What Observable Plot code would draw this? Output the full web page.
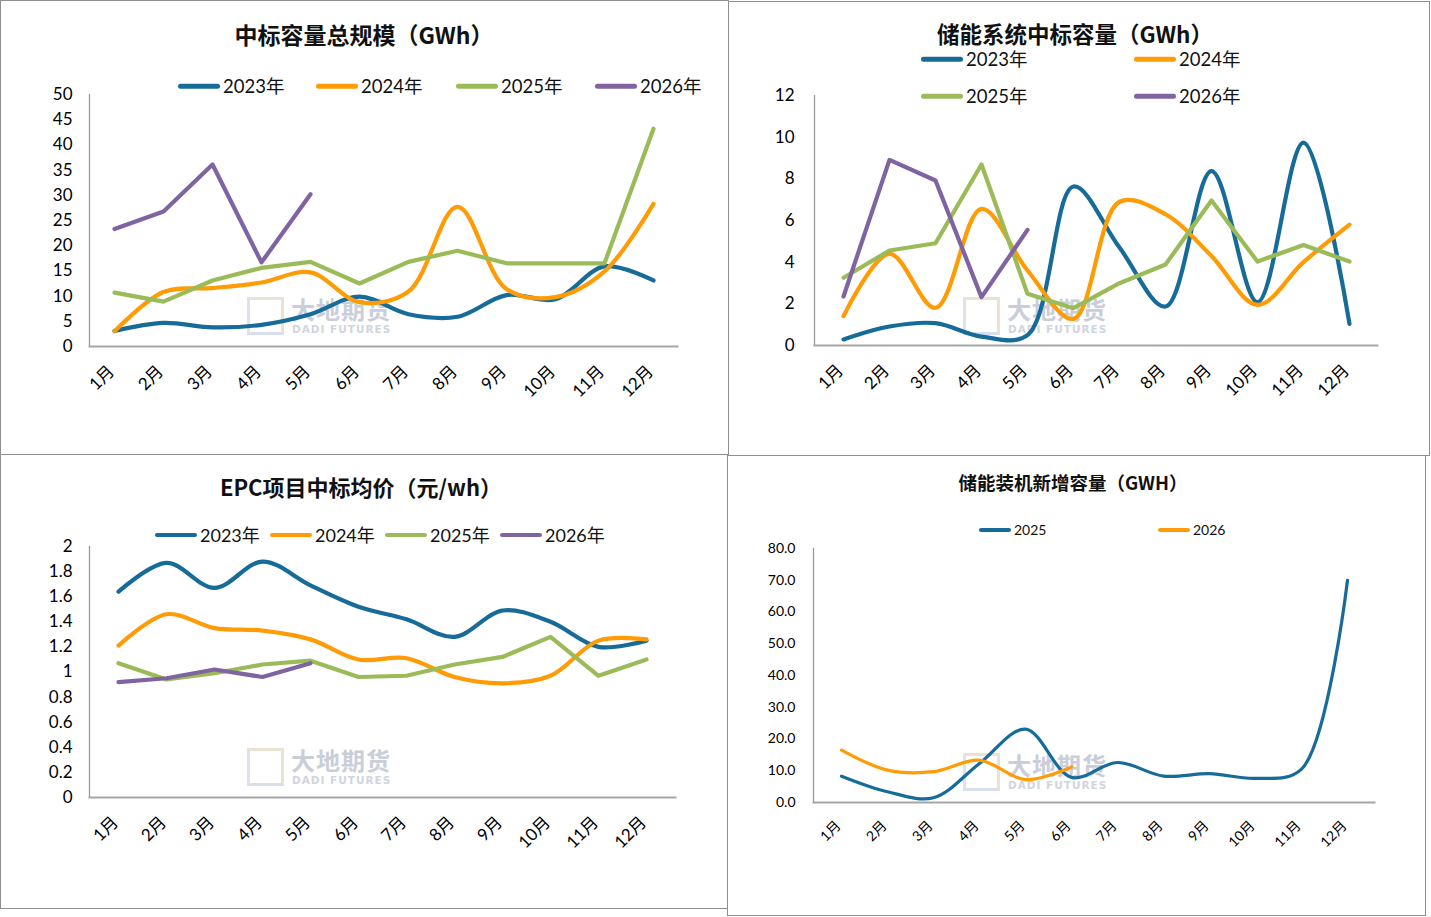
<!DOCTYPE html>
<html><head><meta charset="utf-8">
<script src="https://cdn.jsdelivr.net/npm/d3@7"></script>
<script src="https://cdn.jsdelivr.net/npm/@observablehq/plot@0.6"></script>
<style>
html,body{margin:0;padding:0;background:#fff;}
#root{position:relative;width:1431px;height:917px;overflow:hidden;background:#fff;font-family:Lato,"Noto Sans CJK SC",sans-serif;}
.panel{position:absolute;border:1.5px solid #8e8e8e;box-sizing:border-box;}
.title{position:absolute;font-weight:bold;white-space:nowrap;transform:translate(-50%,-50%);font-family:"Noto Sans CJK SC",sans-serif;color:#111;line-height:1;}
.leg{position:absolute;display:flex;align-items:center;white-space:nowrap;transform:translateY(-50%);color:#111;line-height:1;}
.leg span.sw{display:inline-block;border-radius:3px;margin-right:3px;}
.wm{position:absolute;opacity:0.8;}
.wm .logo{position:absolute;left:0;top:0;border:3px solid #e6dcc8;border-left-color:#d5dcea;border-bottom-color:#cfd8e8;box-sizing:border-box;}
.wm .txt{position:absolute;font-family:"Noto Sans CJK SC",sans-serif;font-weight:bold;color:#bcc2cf;white-space:nowrap;letter-spacing:1px;line-height:1.1;}
.wm .txt span{font-family:"DejaVu Sans",sans-serif;color:#c6cbd6;display:block;line-height:1;}
.plot{position:absolute;}
</style>
</head><body><div id="root"></div>
<script>
// ---------- data ----------
const months = ["1月","2月","3月","4月","5月","6月","7月","8月","9月","10月","11月","12月"];

// 中标容量总规模（GWh）
const bidTotal2023 = [3.1, 4.7, 3.8, 4.3, 6.4, 9.9, 6.4, 5.9, 10.2, 9.4, 15.9, 13.1];
const bidTotal2024 = [3.0, 10.8, 11.6, 12.7, 14.7, 8.8, 10.9, 27.7, 11.4, 9.8, 14.9, 28.3];
const bidTotal2025 = [10.7, 8.9, 13.1, 15.6, 16.8, 12.5, 16.8, 19.0, 16.5, 16.5, 16.5, 43.2];
const bidTotal2026 = [23.3, 26.8, 36.1, 16.7, 30.2];

// 储能系统中标容量（GWh）
const sysBid2023 = [0.29, 0.91, 1.07, 0.43, 0.5, 7.63, 4.7, 1.87, 8.37, 2.08, 9.74, 1.04];
const sysBid2024 = [1.41, 4.4, 1.81, 6.56, 3.6, 1.28, 6.9, 6.3, 4.3, 1.95, 4.0, 5.8];
const sysBid2025 = [3.25, 4.56, 4.91, 8.69, 2.48, 1.79, 2.99, 3.89, 6.96, 4.03, 4.82, 4.03];
const sysBid2026 = [2.35, 8.91, 7.92, 2.32, 5.55];

// EPC项目中标均价（元/wh）
const epc2023 = [1.64, 1.87, 1.67, 1.88, 1.69, 1.52, 1.42, 1.28, 1.49, 1.40, 1.20, 1.25];
const epc2024 = [1.21, 1.46, 1.35, 1.33, 1.26, 1.10, 1.11, 0.96, 0.91, 0.97, 1.25, 1.26];
const epc2025 = [1.07, 0.94, 0.99, 1.06, 1.09, 0.96, 0.97, 1.06, 1.12, 1.28, 0.97, 1.10];
const epc2026 = [0.92, 0.95, 1.02, 0.96, 1.07];

// 储能装机新增容量（GWH）
const install2025 = [8.3, 3.4, 1.5, 12.3, 23.1, 7.9, 12.6, 8.3, 9.1, 7.6, 10.5, 70.0];
const install2026 = [16.5, 10.2, 9.7, 13.3, 7.2, 11.2];

const yearNames = ["2023年","2024年","2025年","2026年"];
const colors = {blue:"#176b99", orange:"#ff9b05", green:"#9bbb59", purple:"#8064a2"};

// ---------- helpers ----------
const root = document.getElementById("root");
function el(tag, cls, style, html){
  const e = document.createElement(tag);
  if (cls) e.className = cls;
  Object.assign(e.style, style || {});
  if (html != null) e.innerHTML = html;
  root.appendChild(e);
  return e;
}
function rows(vals){ return vals.map((v,i)=>({m:months[i], v})); }
function legendItem(x, y, label, color, lineW, lineH, fs){
  const d = el("div","leg",{left:x+"px",top:y+"px",fontSize:fs+"px"});
  d.innerHTML = `<span class="sw" style="width:${lineW}px;height:${lineH}px;background:${color}"></span>${label}`;
}
function watermark(x, y){
  const w = el("div","wm",{left:x+"px",top:y+"px",width:"150px",height:"40px"});
  w.innerHTML = `<div class="logo" style="width:37px;height:38px"></div>
  <div class="txt" style="left:44px;top:-1px;font-size:24px">大地期货<span style="font-size:10.5px;margin-left:1px;margin-top:2px">DADI FUTURES</span></div>`;
}
function placePlot(x, y, svg){
  const w = el("div","plot",{left:x+"px",top:y+"px"});
  w.appendChild(svg);
}
const fontFam = 'Lato, "Noto Sans CJK SC", sans-serif';

function chart(opts){
  const {w,h,ml,mr,mt,mb,ydom,yticks,yfmt,fs,series,axisPadY,axisPadX} = opts;
  const marks = [
    Plot.frame({anchor:"left", stroke:"#9a9a9a", strokeWidth:1.3}),
    Plot.frame({anchor:"bottom", stroke:"#a6a6a6", strokeWidth:2}),
    Plot.axisY({ticks:yticks, tickSize:0, tickPadding:axisPadY, tickFormat:yfmt, label:null, fontSize:fs, fill:"#000"}),
    Plot.axisX({tickSize:0, tickRotate:-45, tickPadding:axisPadX, dx:-3, label:null, fontSize:fs, fill:"#000"})
  ];
  for (const s of series){
    marks.push(Plot.line(rows(s.values), {x:"m", y:"v", stroke:s.color, strokeWidth:s.sw, curve:s.curve, strokeLinecap:"round", strokeLinejoin:"round"}));
  }
  return Plot.plot({
    width:w, height:h, marginLeft:ml, marginRight:mr, marginTop:mt, marginBottom:mb,
    style:{fontFamily:fontFam, fontSize:fs+"px", background:"transparent", color:"#000", overflow:"visible"},
    x:{type:"point", domain:months, padding:0.5, label:null},
    y:{domain:ydom, label:null},
    marks
  });
}

// ---------- panels (borders) ----------
el("div","panel",{left:"0px",top:"0px",width:"729px",height:"455px"});
el("div","panel",{left:"728px",top:"1px",width:"702px",height:"455px"});
el("div","panel",{left:"0px",top:"454px",width:"728px",height:"455px"});
el("div","panel",{left:"727px",top:"455px",width:"699px",height:"461px"});

// watermarks
watermark(247, 297);
watermark(963, 297);
watermark(247, 748);
watermark(963, 753);

// ---------- Panel 1 ----------
el("div","title",{left:"364px",top:"34px",fontSize:"23px"},"中标容量总规模（GWh）");
[[178,colors.blue],[316,colors.orange],[456,colors.green],[595,colors.purple]].forEach((p,i)=>legendItem(p[0],86,yearNames[i],p[1],42,4.5,18.5));
placePlot(0,0, chart({
  w:728,h:453,ml:89,mr:51,mt:94,mb:107, ydom:[0,50], yticks:d3.range(0,51,5), yfmt:d=>d, fs:17,
  axisPadY:17, axisPadX:22,
  series:[
    {values:bidTotal2023,color:colors.blue,sw:4.2,curve:"catmull-rom"},
    {values:bidTotal2024,color:colors.orange,sw:4.2,curve:"catmull-rom"},
    {values:bidTotal2025,color:colors.green,sw:4.2,curve:"linear"},
    {values:bidTotal2026,color:colors.purple,sw:4.2,curve:"linear"}
  ]
}));

// ---------- Panel 2 ----------
el("div","title",{left:"1075px",top:"33px",fontSize:"22.5px"},"储能系统中标容量（GWh）");
legendItem(921,59,yearNames[0],colors.blue,42,4.5,18.5);
legendItem(1134,59,yearNames[1],colors.orange,42,4.5,18.5);
legendItem(921,96,yearNames[2],colors.green,42,4.5,18.5);
legendItem(1134,96,yearNames[3],colors.purple,42,4.5,18.5);
placePlot(728,0, chart({
  w:702,h:455,ml:86,mr:53,mt:95,mb:110, ydom:[0,12], yticks:d3.range(0,13,2), yfmt:d=>d, fs:17,
  axisPadY:20, axisPadX:22,
  series:[
    {values:sysBid2023,color:colors.blue,sw:4.2,curve:"catmull-rom"},
    {values:sysBid2024,color:colors.orange,sw:4.2,curve:"catmull-rom"},
    {values:sysBid2025,color:colors.green,sw:4.2,curve:"linear"},
    {values:sysBid2026,color:colors.purple,sw:4.2,curve:"linear"}
  ]
}));

// ---------- Panel 3 ----------
el("div","title",{left:"361px",top:"486px",fontSize:"22px"},"EPC项目中标均价（元/wh）");
[[155,colors.blue],[270,colors.orange],[385,colors.green],[500,colors.purple]].forEach((p,i)=>legendItem(p[0],535,yearNames[i],p[1],42,4.5,18));
placePlot(0,454, chart({
  w:727,h:454,ml:89,mr:52,mt:92,mb:111, ydom:[0,2], yticks:d3.range(0,2.01,0.2), yfmt:d=>String(+d.toFixed(1)), fs:17,
  axisPadY:17, axisPadX:22,
  series:[
    {values:epc2023,color:colors.blue,sw:4.2,curve:"catmull-rom"},
    {values:epc2024,color:colors.orange,sw:4.2,curve:"catmull-rom"},
    {values:epc2025,color:colors.green,sw:4.2,curve:"linear"},
    {values:epc2026,color:colors.purple,sw:4.2,curve:"linear"}
  ]
}));

// ---------- Panel 4 ----------
el("div","title",{left:"1073px",top:"482px",fontSize:"18.5px"},"储能装机新增容量（GWH）");
legendItem(979,530,"2025",colors.blue,32,3.5,14);
legendItem(1158,530,"2026",colors.orange,32,3.5,14);
placePlot(727,455, chart({
  w:699,h:460,ml:86,mr:52,mt:93,mb:113, ydom:[0,80], yticks:d3.range(0,81,10), yfmt:d3.format(".1f"), fs:14,
  axisPadY:18, axisPadX:21,
  series:[
    {values:install2025,color:colors.blue,sw:3.2,curve:"catmull-rom"},
    {values:install2026,color:colors.orange,sw:3.2,curve:"catmull-rom"}
  ]
}));
</script>
</body></html>
